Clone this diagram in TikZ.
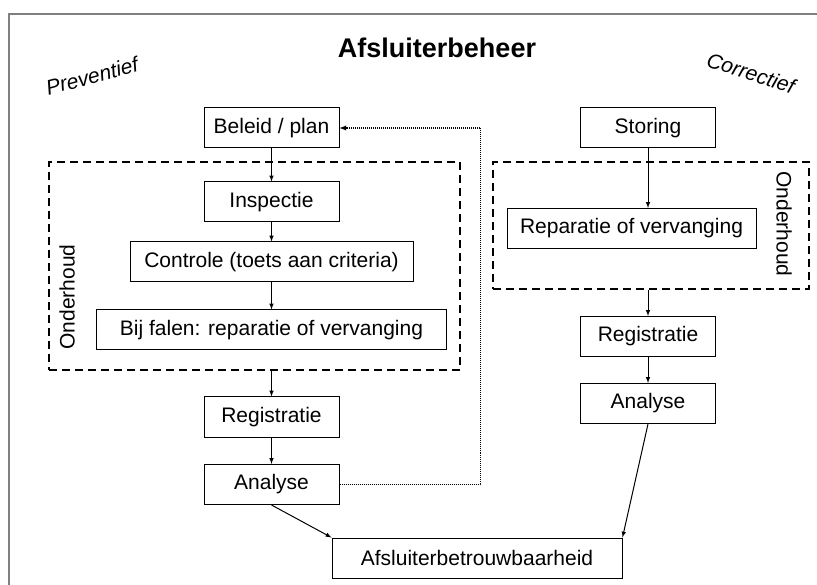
\documentclass[tikz,border=0pt]{standalone}
\usepackage{fontspec}
\setmainfont{Liberation Sans}
\usetikzlibrary{arrows}

\begin{document}
\begin{tikzpicture}[x = 1pt, y = -1pt, > = latex,
	box/.style = {draw, line width = 1pt, minimum height = 40pt, inner sep = 0pt, font = \fontsize{21}{25}\selectfont},
	kader/.style = {draw, line width = 1.5pt, dash pattern = on 8pt off 5pt, inner sep = 0pt},
	label/.style = {font = \fontsize{21}{25}\selectfont}]

	\useasboundingbox (0, 0) rectangle (817, 585);
	\draw [gray, line width = 2pt] (9, 585) -- (9, 14) -- (817, 14);

	\node [font = \bfseries\fontsize{27}{30}\selectfont] (titel) at (437, 48) {Afsluiterbeheer};
	\node [label, font = \itshape\fontsize{21}{25}\selectfont, rotate = 15] (preventief) at (92, 76) {Preventief};
	\node [label, font = \itshape\fontsize{21}{25}\selectfont, rotate = -18] (correctief) at (751, 73) {Correctief};

	% preventief
	\begin{scope}[box/.append style = {minimum width = 135pt}]
	
		\node [box] (beleid) at (271.5, 128) {Beleid / plan};
		\node [box] (inspectie) at (271.5, 202) {Inspectie};
		\node [box, minimum width = 283pt] (controle) at (271.5, 262) {Controle (toets aan criteria)};
		\node [box, minimum width = 350pt] (falen) at (271.5, 330) {Bij falen: reparatie of vervanging};
		\node [box] (registratieL) at (271.5, 417) {Registratie};
		\node [box] (analyseL) at (271.5, 484.5) {Analyse};
	
	\end{scope}
	
	\node [kader, minimum width = 411pt, minimum height = 208pt] (onderhoudL) at (254.5, 266) {};
	\node [label, rotate = 90] at (67, 297) {Onderhoud};
	
	% correctief
	\begin{scope}[box/.append style = {minimum width = 135pt}]
	
		\node [box] (storing) at (648, 128) {Storing};
		\node [box, minimum width = 249pt] (reparatie) at (631.5, 228.5) {Reparatie of vervanging};
		\node [box] (registratieR) at (648, 336.5) {Registratie};
		\node [box] (analyseR) at (648, 403.5) {Analyse};
	
	\end{scope}
	
	\node [kader, minimum width = 316pt, minimum height = 127pt] (onderhoudR) at (651, 225.5) {};
	\node [label, rotate = -90] at (784, 224) {Onderhoud};

	\node [box, minimum width = 290pt] (betrouwbaarheid) at (477, 558) {Afsluiterbetrouwbaarheid};

	\begin{scope}[->, line width = 1pt]
	
		\draw (beleid) -- (inspectie);
		\draw (inspectie) -- (controle);
		\draw (controle) -- (falen);
		\draw (onderhoudL.south -| registratieL) -- (registratieL);
		\draw (registratieL) -- (analyseL);
		\draw (analyseL.south) -- (betrouwbaarheid.north west);
		
		\draw (storing) -- (storing.south |- reparatie.north);
		\draw (onderhoudR.south -| registratieR) -- (registratieR);
		\draw (registratieR) -- (analyseR);
		\draw (analyseR.south) -- (betrouwbaarheid.north east);
		
		\draw [line width = 1.3pt, dash pattern = on 1pt off 1pt] (analyseL.east) -- ++(141, 0) |- (beleid.east);
	
	\end{scope}

\end{tikzpicture}
\end{document}
